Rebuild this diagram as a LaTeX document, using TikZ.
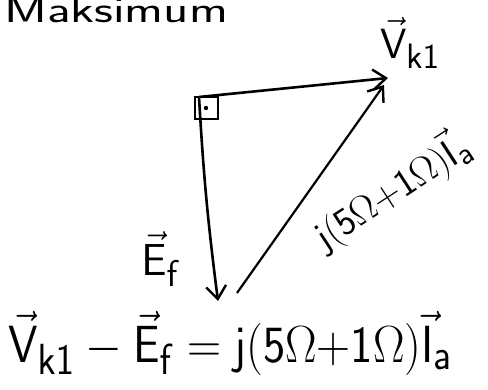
\documentclass[tikz,border=0pt]{standalone}
\usepackage{graphicx}
\usetikzlibrary{arrows.meta}
\newcommand{\vs}[1]{\vec{\mathsf{#1}}}
\begin{document}
\begin{tikzpicture}[x=1pt,y=1pt,
  vec/.style={line width=2.6pt,-{Straight Barb[length=13pt,width=20pt,line width=2.4pt]}},
  lbl/.style={inner sep=0pt,font=\Huge}]
\useasboundingbox (0,0) rectangle (488,390);
% title (clipped at top)
\node[lbl,anchor=base west,font=\Huge\sffamily] (title) at (4,367) {\scalebox{2.1}[1.5]{Maksimum}};
% coordinates
\coordinate (O) at (199,293);
\coordinate (V) at (388,312);
\coordinate (E) at (218,89);
\coordinate (D) at (237,97);
\coordinate (Dt) at (384,305);
% vectors
\draw[vec] (O) -- (V);
\draw[vec] (O) to[bend right=2] (E);
\draw[vec,line width=2.2pt] (D) -- (Dt);
% right angle mark
\draw[line width=2.4pt] (195,293) rectangle (218,271);
\fill (206,282) circle (2.2pt);
% labels
\node[lbl] (lv) at (410,347) {\scalebox{1.7}{$\vs{V}_{\mathsf{k1}}$}};
\node[lbl] (le) at (161,131) {\scalebox{1.8}{$\vs{E}_{\mathsf{f}}$}};
\node[lbl,rotate=33] (ld) at (392,200) {\scalebox{1.55}{$\mathsf{j}(\mathsf{5}\Omega{+}\mathsf{1}\Omega)\vs{I}_{\mathsf{a}}$}};
\node[lbl,anchor=west] (eq) at (8,47)
  {\scalebox{1.9}[2.1]{$\vs{V}_{\mathsf{k1}}-\vs{E}_{\mathsf{f}}=\mathsf{j}(\mathsf{5}\Omega{+}\mathsf{1}\Omega)\vs{I}_{\mathsf{a}}$}};
\end{tikzpicture}
\end{document}
